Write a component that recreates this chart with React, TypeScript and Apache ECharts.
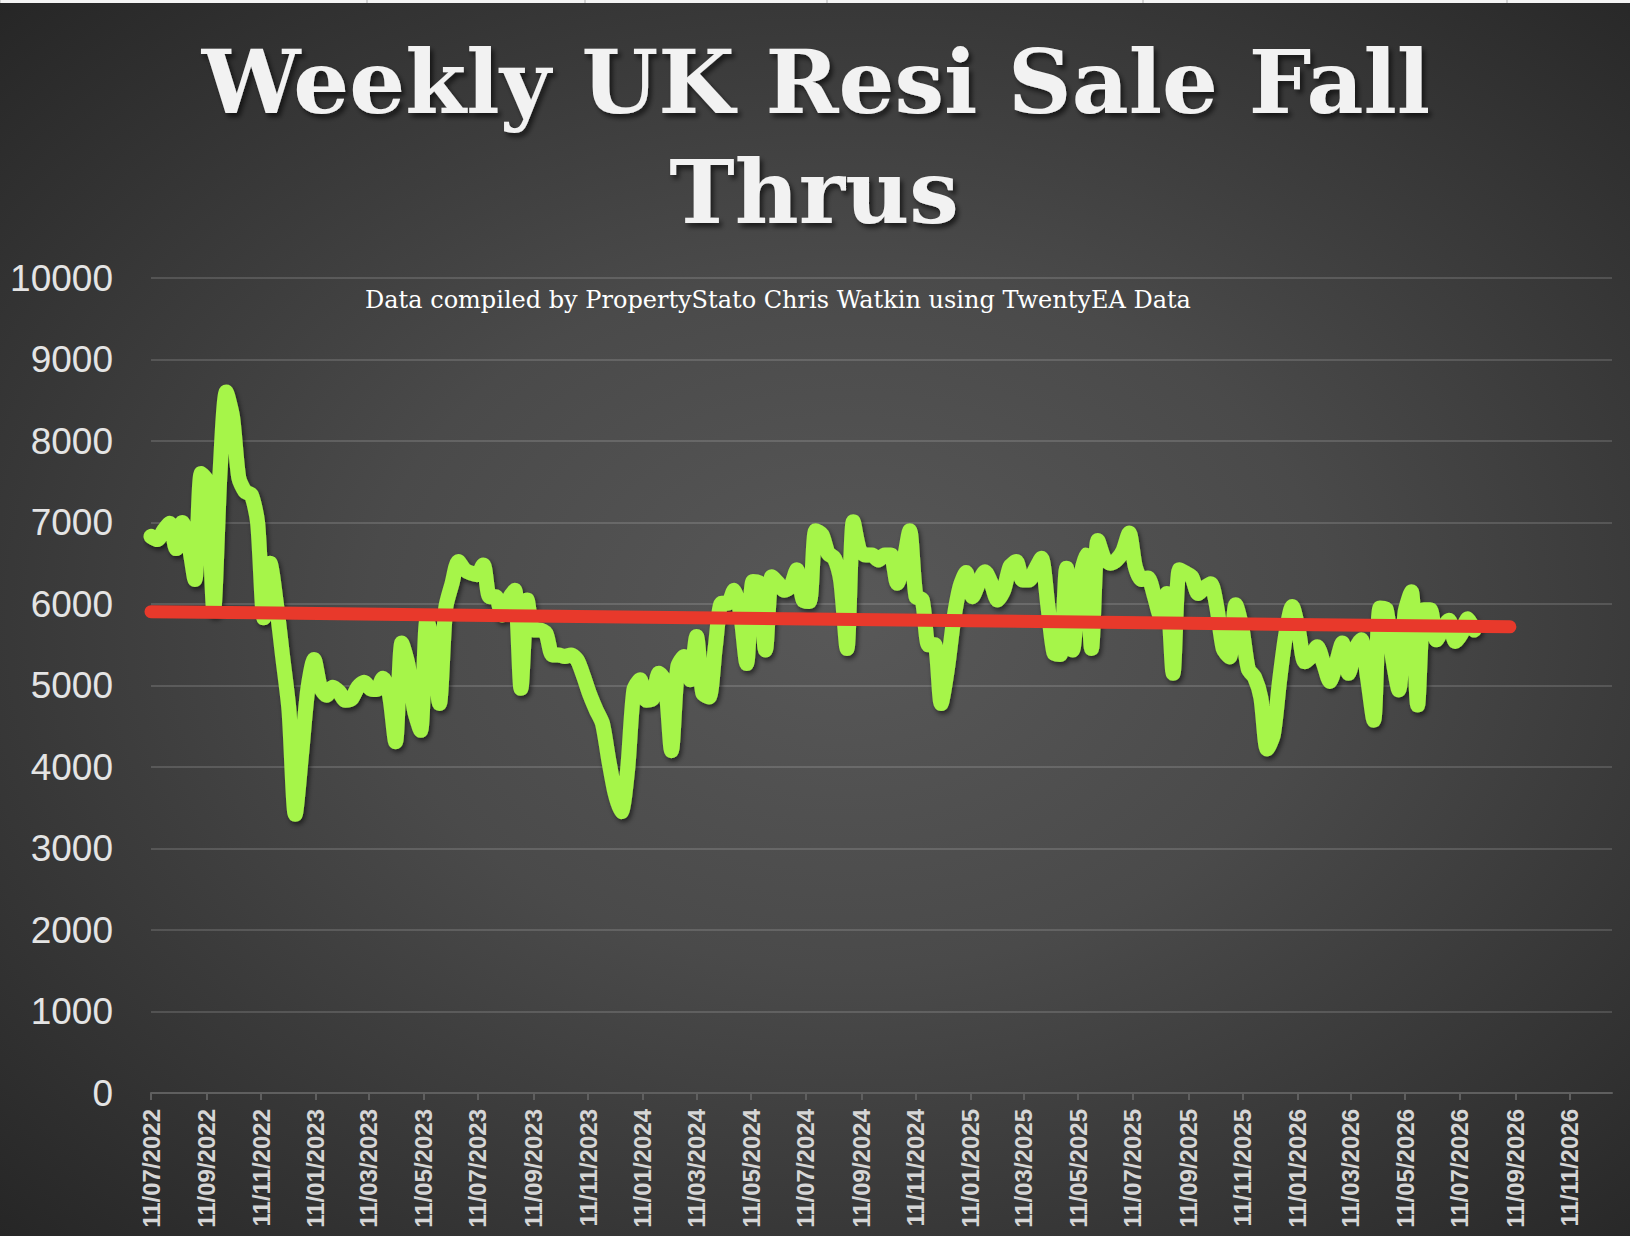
import React, { useEffect, useRef } from "react";
import * as echarts from "echarts";

// ---------- data ----------
const START_DATE = "2022-07-11"; // first weekly observation
const WEEK_MS = 7 * 24 * 3600 * 1000;

const WEEKS_2022_23 = [
  6830, 6790, 6900, 6990, 6680, 7000, 6750, 6300, 7600, 7500, 5930, 7600, 8600, 8300,
  7550, 7380, 7340, 7000, 5830, 6500, 6000, 5350, 4700, 3420, 4150, 4950, 5320, 4980,
  4880, 4980, 4920, 4820, 4840, 4980, 5040, 4960, 4950, 5090, 4900, 4310, 5520, 5250,
  4700, 4450, 5800, 5500, 4780, 5950, 6250, 6520, 6420, 6380, 6360,
];
const WEEKS_2023_24 = [
  6480, 6090, 6090, 5865, 6050, 6170, 4965, 6050, 5680, 5680, 5640, 5375, 5375, 5355,
  5375, 5310, 5110, 4885, 4700, 4535, 4085, 3680, 3450, 3960, 4945, 5070, 4820, 4840,
  5150, 5050, 4200, 5230, 5355, 5070, 5600, 4905, 4860, 5475, 6010, 6010, 6170, 5900,
  5270, 6275, 6255, 5435, 6335, 6255, 6170, 6210, 6420, 6050, 6030,
];
const WEEKS_2024_25 = [
  6900, 6850, 6620, 6560, 6280, 5455, 7010, 6660, 6600, 6600, 6540, 6600, 6600, 6255,
  6500, 6900, 6090, 6050, 5500, 5500, 4780, 5200, 5800, 6210, 6385, 6090, 6255, 6395,
  6255, 6050, 6170, 6460, 6520, 6295, 6295, 6420, 6560, 6000, 5400, 5380, 6440, 5435,
  6200, 6600, 5455, 6780, 6560, 6500, 6540, 6650, 6870, 6450, 6300,
];
const WEEKS_2025_26 = [
  6320, 6100, 5850, 6130, 5150, 6420, 6380, 6330, 6130, 6200, 6250, 5950, 5450, 5350,
  5990, 5700, 5200, 5100, 4850, 4220, 4400, 5070, 5640, 5970, 5680, 5290, 5355, 5475,
  5270, 5050, 5270, 5520, 5150, 5435, 5560, 5100, 4575, 5950, 5930, 5350, 4945, 5900,
  6150, 4760, 5930, 5930, 5560, 5700, 5800, 5540, 5640, 5820, 5680,
];

const TREND_DATES = ["2022-07-11", "2026-09-05"];
const TREND_VALUES = [5906, 5720];

const TICK_LABELS = [
  "11/07/2022", "11/09/2022", "11/11/2022",
  "11/01/2023", "11/03/2023", "11/05/2023", "11/07/2023", "11/09/2023", "11/11/2023",
  "11/01/2024", "11/03/2024", "11/05/2024", "11/07/2024", "11/09/2024", "11/11/2024",
  "11/01/2025", "11/03/2025", "11/05/2025", "11/07/2025", "11/09/2025", "11/11/2025",
  "11/01/2026", "11/03/2026", "11/05/2026", "11/07/2026", "11/09/2026", "11/11/2026",
];
const X_MIN = "2022-07-11";
const X_MAX = "2026-12-28";

const TITLE_LINES = ["Weekly UK Resi Sale Fall", "Thrus"];
const SUBTITLE = "Data compiled by PropertyStato Chris Watkin using TwentyEA Data";

// ---------- helpers ----------
const isoTs = (s: string) => {
  const [y, m, d] = s.split("-").map(Number);
  return Date.UTC(y, m - 1, d);
};
const ukTs = (s: string) => {
  const [d, m, y] = s.split("/").map(Number);
  return Date.UTC(y, m - 1, d);
};
const pad = (n: number) => (n < 10 ? "0" + n : "" + n);
const fmtUk = (v: number) => {
  const dt = new Date(v);
  return pad(dt.getUTCDate()) + "/" + pad(dt.getUTCMonth() + 1) + "/" + dt.getUTCFullYear();
};

export default function App() {
  const ref = useRef<HTMLDivElement | null>(null);

  useEffect(() => {
    document.body.style.margin = "0";
    document.body.style.background = "#2a2a2a";
    if (!ref.current) return;
    const chart = echarts.init(ref.current, undefined, { renderer: "svg" });

    const values = [...WEEKS_2022_23, ...WEEKS_2023_24, ...WEEKS_2024_25, ...WEEKS_2025_26];
    const start = isoTs(START_DATE);
    const weekly = values.map((v, i) => [start + i * WEEK_MS, v]);
    const trend = TREND_DATES.map((d, i) => [isoTs(d), TREND_VALUES[i]]);
    const ticks = TICK_LABELS.map(ukTs);

    const gridColor = "rgba(255,255,255,0.14)";
    const topMarks = [0, 367, 585, 827, 1143, 1507];
    const titleStyle = {
      align: "center",
      verticalAlign: "middle",
      font: "bold 88px 'DejaVu Serif', serif",
      fill: "#f2f2f2",
      textShadowColor: "rgba(0,0,0,0.6)",
      textShadowBlur: 5,
      textShadowOffsetX: 3,
      textShadowOffsetY: 4,
    };

    chart.setOption({
      animation: false,
      backgroundColor: "transparent",
      grid: { left: 151, right: 18, top: 278, bottom: 143, containLabel: false },
      xAxis: {
        type: "value",
        min: isoTs(X_MIN),
        max: isoTs(X_MAX),
        axisLine: { show: true, onZero: false, lineStyle: { color: "#5f5f5f", width: 2 } },
        axisTick: {
          show: true,
          length: 7,
          customValues: ticks,
          lineStyle: { color: "#5f5f5f", width: 2 },
        },
        axisLabel: {
          customValues: ticks,
          rotate: 90,
          margin: 16,
          color: "#d6d6d6",
          fontSize: 24,
          fontWeight: "bold",
          fontFamily: "'Liberation Sans', Arial, sans-serif",
          formatter: (v: number) => fmtUk(v),
          hideOverlap: false,
        },
        splitLine: { show: false },
      },
      yAxis: {
        type: "value",
        min: 0,
        max: 10000,
        interval: 1000,
        axisLine: { show: false },
        axisTick: { show: false },
        axisLabel: {
          margin: 38,
          color: "#e4e4e4",
          fontSize: 37,
          fontFamily: "'Liberation Sans', Arial, sans-serif",
          formatter: (v: number) => String(v),
        },
        splitLine: { show: true, lineStyle: { color: gridColor, width: 2 } },
      },
      series: [
        {
          name: "Fall Thrus",
          type: "line",
          data: weekly,
          symbol: "none",
          smooth: 0.25,
          z: 3,
          lineStyle: {
            color: "#a6f54a",
            width: 15,
            cap: "round",
            join: "round",
            shadowColor: "rgba(0,0,0,0.55)",
            shadowBlur: 5,
            shadowOffsetX: 2,
            shadowOffsetY: 3,
          },
        },
        {
          name: "Trend",
          type: "line",
          data: trend,
          symbol: "none",
          z: 4,
          lineStyle: { color: "#e8392b", width: 13, cap: "round" },
        },
      ],
      graphic: [
        {
          type: "rect",
          shape: { x: 0, y: 0, width: 1630, height: 3 },
          style: { fill: "#f4f4f4" },
          silent: true,
        },
        ...topMarks.map((x) => ({
          type: "line",
          shape: { x1: x, y1: 0, x2: x, y2: 3 },
          style: { stroke: "#b0b0b0", lineWidth: 1 },
          silent: true,
        })),
        {
          type: "text",
          x: 816,
          y: 82,
          silent: true,
          style: { ...titleStyle, text: TITLE_LINES[0] },
        },
        {
          type: "text",
          x: 814,
          y: 192,
          silent: true,
          style: { ...titleStyle, text: TITLE_LINES[1] },
        },
        {
          type: "text",
          x: 778,
          y: 300,
          silent: true,
          style: {
            text: SUBTITLE,
            align: "center",
            verticalAlign: "middle",
            font: "24px 'DejaVu Serif', serif",
            fill: "#ffffff",
          },
        },
      ],
    });

    return () => chart.dispose();
  }, []);

  return (
    <div
      ref={ref}
      style={{
        width: 1630,
        height: 1236,
        background: "radial-gradient(ellipse at 52% 50%, #585858 0%, #4a4a4a 40%, #262626 100%)",
      }}
    />
  );
}
